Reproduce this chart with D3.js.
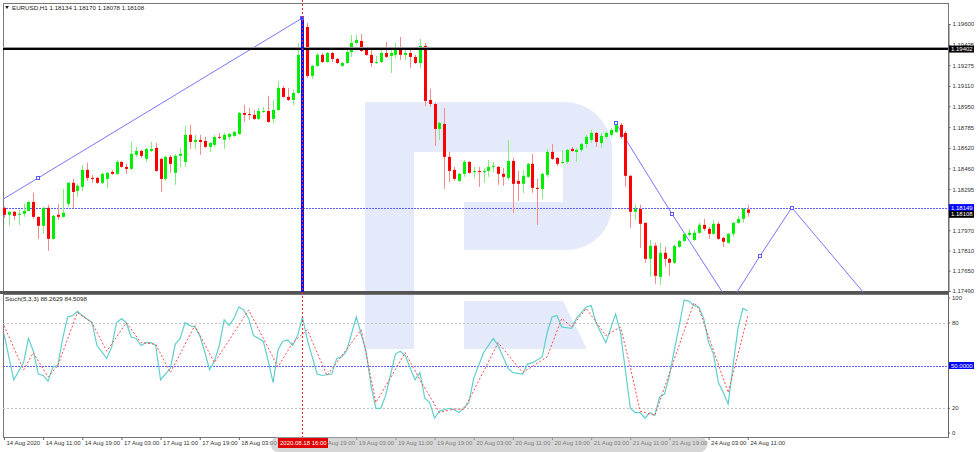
<!DOCTYPE html>
<html><head><meta charset="utf-8">
<script src="https://cdn.jsdelivr.net/npm/d3@7"></script>
<style>body{margin:0;background:#fff;}svg{display:block;font-family:"Liberation Sans",Arial,sans-serif;}</style>
</head><body><svg id="c" width="978" height="452"></svg>
<script>
// ---------- DATA ----------
const opens=[1.18147,1.18092,1.18116,1.18092,1.18100,1.18123,1.18194,1.18076,1.18005,1.18147,1.17902,1.18092,1.18076,1.18179,1.18345,1.18281,1.18313,1.18447,1.18384,1.18384,1.18345,1.18376,1.18431,1.18416,1.18510,1.18471,1.18455,1.18566,1.18597,1.18534,1.18597,1.18621,1.18534,1.18376,1.18550,1.18424,1.18558,1.18510,1.18724,1.18668,1.18684,1.18676,1.18629,1.18645,1.18708,1.18684,1.18708,1.18716,1.18731,1.18897,1.18889,1.18882,1.18850,1.18905,1.18913,1.18850,1.18921,1.19095,1.19024,1.19000,1.19055,1.19356,1.19577,1.19190,1.19269,1.19356,1.19300,1.19371,1.19324,1.19269,1.19292,1.19379,1.19450,1.19466,1.19395,1.19356,1.19292,1.19300,1.19371,1.19348,1.19356,1.19395,1.19356,1.19371,1.19340,1.19292,1.19427,1.19000,1.18968,1.18771,1.18810,1.18550,1.18447,1.18360,1.18416,1.18510,1.18431,1.18439,1.18431,1.18439,1.18471,1.18471,1.18416,1.18384,1.18518,1.18360,1.18337,1.18392,1.18495,1.18305,1.18297,1.18408,1.18589,1.18542,1.18503,1.18510,1.18613,1.18589,1.18605,1.18652,1.18684,1.18739,1.18660,1.18708,1.18724,1.18747,1.18803,1.18739,1.18400,1.18116,1.18139,1.18029,1.17744,1.17847,1.17602,1.17792,1.17744,1.17713,1.17839,1.17886,1.17934,1.17894,1.17950,1.18013,1.17981,1.17942,1.18021,1.17910,1.17871,1.17942,1.18029,1.18060,1.18134];
const highs=[1.18155,1.18123,1.18123,1.18131,1.18179,1.18202,1.18266,1.18076,1.18155,1.18171,1.18092,1.18179,1.18297,1.18352,1.18376,1.18337,1.18487,1.18503,1.18408,1.18392,1.18424,1.18431,1.18447,1.18526,1.18518,1.18495,1.18668,1.18629,1.18605,1.18621,1.18668,1.18660,1.18542,1.18558,1.18566,1.18574,1.18621,1.18795,1.18803,1.18724,1.18724,1.18708,1.18668,1.18724,1.18739,1.18739,1.18739,1.18755,1.18905,1.18961,1.18937,1.18921,1.18937,1.18945,1.19032,1.19000,1.19150,1.19111,1.19095,1.19079,1.19450,1.19648,1.19608,1.19277,1.19371,1.19371,1.19379,1.19379,1.19332,1.19300,1.19395,1.19513,1.19513,1.19521,1.19411,1.19395,1.19348,1.19411,1.19458,1.19419,1.19450,1.19498,1.19419,1.19411,1.19356,1.19482,1.19450,1.19087,1.18976,1.18826,1.18937,1.18589,1.18471,1.18424,1.18526,1.18518,1.18471,1.18471,1.18463,1.18526,1.18510,1.18479,1.18463,1.18684,1.18542,1.18439,1.18447,1.18503,1.18574,1.18376,1.18424,1.18613,1.18652,1.18550,1.18605,1.18613,1.18629,1.18621,1.18660,1.18724,1.18763,1.18747,1.18739,1.18747,1.18779,1.18826,1.18818,1.18755,1.18408,1.18171,1.18171,1.18029,1.17894,1.17871,1.17871,1.17839,1.17752,1.17855,1.17894,1.17950,1.17981,1.17973,1.18029,1.18060,1.17997,1.18052,1.18036,1.17918,1.17950,1.18036,1.18084,1.18147,1.18170];
const lows=[1.18068,1.18005,1.18052,1.18013,1.18076,1.18116,1.18060,1.17902,1.17942,1.17807,1.17894,1.18052,1.18068,1.18155,1.18147,1.18234,1.18281,1.18360,1.18345,1.18337,1.18337,1.18305,1.18408,1.18408,1.18463,1.18416,1.18447,1.18550,1.18542,1.18510,1.18589,1.18431,1.18273,1.18360,1.18424,1.18329,1.18471,1.18471,1.18613,1.18613,1.18566,1.18621,1.18589,1.18629,1.18692,1.18613,1.18684,1.18708,1.18724,1.18826,1.18842,1.18842,1.18842,1.18897,1.18818,1.18818,1.18913,1.19016,1.18992,1.18961,1.19047,1.19340,1.19174,1.19166,1.19261,1.19292,1.19292,1.19300,1.19284,1.19261,1.19284,1.19340,1.19435,1.19379,1.19348,1.19261,1.19284,1.19292,1.19332,1.19213,1.19332,1.19316,1.19316,1.19253,1.19284,1.19253,1.18953,1.18945,1.18637,1.18684,1.18297,1.18352,1.18360,1.18352,1.18392,1.18416,1.18384,1.18313,1.18345,1.18392,1.18431,1.18329,1.18321,1.18368,1.18108,1.18202,1.18266,1.18384,1.18266,1.18013,1.18218,1.18392,1.18526,1.18479,1.18495,1.18495,1.18589,1.18510,1.18589,1.18621,1.18660,1.18629,1.18621,1.18692,1.18708,1.18739,1.18692,1.18313,1.17989,1.18052,1.17831,1.17713,1.17602,1.17547,1.17539,1.17681,1.17610,1.17705,1.17831,1.17879,1.17918,1.17886,1.17942,1.17965,1.17902,1.17934,1.17894,1.17839,1.17863,1.17918,1.18021,1.18029,1.18078];
const closes=[1.18092,1.18116,1.18084,1.18100,1.18123,1.18194,1.18076,1.18005,1.18147,1.17902,1.18084,1.18076,1.18108,1.18345,1.18273,1.18321,1.18447,1.18384,1.18376,1.18345,1.18416,1.18424,1.18416,1.18510,1.18471,1.18455,1.18574,1.18597,1.18558,1.18613,1.18613,1.18439,1.18376,1.18550,1.18495,1.18558,1.18574,1.18724,1.18668,1.18684,1.18668,1.18629,1.18660,1.18708,1.18700,1.18724,1.18731,1.18747,1.18897,1.18882,1.18882,1.18850,1.18913,1.18913,1.18826,1.18921,1.19095,1.19024,1.19000,1.19055,1.19356,1.19577,1.19190,1.19269,1.19356,1.19300,1.19371,1.19324,1.19292,1.19292,1.19379,1.19450,1.19474,1.19387,1.19356,1.19292,1.19300,1.19371,1.19340,1.19371,1.19395,1.19356,1.19371,1.19340,1.19292,1.19427,1.18992,1.18968,1.18771,1.18818,1.18550,1.18439,1.18376,1.18416,1.18510,1.18424,1.18439,1.18431,1.18439,1.18471,1.18479,1.18416,1.18392,1.18518,1.18337,1.18337,1.18400,1.18495,1.18305,1.18297,1.18416,1.18589,1.18534,1.18495,1.18510,1.18605,1.18597,1.18605,1.18652,1.18708,1.18739,1.18668,1.18716,1.18739,1.18763,1.18803,1.18708,1.18400,1.18116,1.18139,1.18021,1.17744,1.17847,1.17610,1.17792,1.17744,1.17713,1.17847,1.17886,1.17942,1.17950,1.17950,1.18013,1.17981,1.17942,1.18021,1.17902,1.17879,1.17942,1.18029,1.18060,1.18139,1.18108];

// Stochastic(5,3,3) main line (%K) and signal (%D), read at bar indices
const kIdx=[0,2,4,5,6,7,8,9,10,11,12,13,14,15,16,18,19,21,22,23,24,25,26,27,28,29,30,31,32,34,35,36,37,38,39,40,41,42,43,44,45,46,47,48,49,50,51,53,54,55,56,57,58,59,60,61,62,64,65,67,68,69,70,72,74,75,76,77,78,80,81,82,84,85,86,87,88,89,91,92,93,95,96,98,100,101,103,104,106,107,108,110,111,112,113,114,116,117,119,120,121,123,125,126,128,129,130,131,132,133,134,135,136,137,138,139,140,141,142,143,144,145,146,147,148,149,150,151,152];
const kVal=[72,40,52,69,60,44,43,39,49,50,69,84,85,88,85,80,64,55,63,80,83,80,70,69,64,66,66,64,40,48,65,69,80,78,77,71,60,47,53,64,82,78,83,91,89,83,71,67,53,38,61,67,68,64,71,84,68,44,43,44,55,56,60,84,60,36,20,20,29,58,60,57,40,45,27,24,13,18,20,19,17,24,41,59,69,64,48,45,44,51,52,56,73,84,85,77,76,83,91,92,80,66,86,73,20,17,17,13,17,15,28,30,43,61,78,96,95,92,91,83,66,58,38,31,23,50,76,90,88.26];
const dIdx=[0,4,6,9,11,15,18,21,25,28,31,34,39,43,50,53,56,59,62,66,73,76,82,85,89,92,94,101,106,111,114,116,119,123,126,128,130,133,141,142,148,152];
const dVal=[78,47,59,42,50,87,80,60,80,66,65,45,78,52,89,69,49,66,75,43,75,24,59,40,17,19.5,19,66,45,56,83,77,90,71,77,49,18,15,94,90,31,84.51];

const priceTicks=[1.19600,1.19435,1.19275,1.19110,1.18950,1.18785,1.18620,1.18460,1.18295,1.17970,1.17810,1.17650,1.17490];
const stochTicks=[100,80,20,0];
const timeIdx=[0,8,16,24,32,40,48,56,64,72,80,88,96,104,112,120,128,136,144,152];
const timeLabels=["14 Aug 2020","14 Aug 11:00","14 Aug 19:00","17 Aug 03:00","17 Aug 11:00","17 Aug 19:00","18 Aug 03:00","","18 Aug 19:00","19 Aug 03:00","19 Aug 11:00","19 Aug 19:00","20 Aug 03:00","20 Aug 11:00","20 Aug 19:00","21 Aug 03:00","21 Aug 11:00","21 Aug 19:00","24 Aug 03:00","24 Aug 11:00"];

const resistance=1.19402, level=1.18149, lastPrice=1.18108;
// trend / projection lines: [barIndex, price]
const trendA=[[7,1.18384],[61,1.19648]];
const proj1=[[125,1.18818],[136.5,1.18100],[150,1.17290]];
const proj2=[[148,1.17370],[154.5,1.17767],[161,1.18149]];
const proj3=[[161,1.18149],[180,1.17280]];
const markerIdx=61;

// ---------- LAYOUT ----------
const svg=d3.select("#c");
const L=3,R=948,T=3,MB=292,ST=294,SB=437;
const x=d3.scaleLinear().domain([0,193]).range([4,4+193*4.893]);
const y=d3.scaleLinear().domain([1.17490,1.19600]).range([291,24]);
const ys=d3.scaleLinear().domain([0,100]).range([436.8,294.2]);
const crisp=v=>Math.round(v)+0.5;

const defs=svg.append("defs");
defs.append("clipPath").attr("id","mc").append("rect").attr("x",L).attr("y",T).attr("width",R-L).attr("height",MB-T);
defs.append("clipPath").attr("id","sc").append("rect").attr("x",L).attr("y",ST).attr("width",R-L).attr("height",SB-ST);

// watermark logo
svg.append("path").attr("fill","#e4eaf9")
 .attr("d","M365,102 H563 A48,48 0 0 1 612,150 V205 A45,45 0 0 1 567,250 H464 V202 H563 V152 H414 V349 H365 Z M464,301 H563 L587,349 H464 Z");

// frames
svg.append("rect").attr("x",L+0.5).attr("y",T+0.5).attr("width",R-L).attr("height",MB-T).attr("fill","none").attr("stroke","#777").attr("stroke-width",1);
svg.append("rect").attr("x",L+0.5).attr("y",ST+0.5).attr("width",R-L).attr("height",SB-ST).attr("fill","none").attr("stroke","#777").attr("stroke-width",1);
svg.append("line").attr("x1",0).attr("x2",R+1).attr("y1",MB+0.5).attr("y2",MB+0.5).attr("stroke","#555").attr("stroke-width",3);

const main=svg.append("g").attr("clip-path","url(#mc)");
// level line
main.append("line").attr("x1",L).attr("x2",R).attr("y1",crisp(y(level))).attr("y2",crisp(y(level))).attr("stroke","#5c5cff").attr("stroke-dasharray","2,1");
// trend line extended to the left edge
const tl=trendA, sl=(y(tl[1][1])-y(tl[0][1]))/(x(tl[1][0])-x(tl[0][0]));
main.append("line").attr("x1",L).attr("y1",y(tl[0][1])+(L-x(tl[0][0]))*sl).attr("x2",x(tl[1][0])).attr("y2",y(tl[1][1])).attr("stroke","#7777ff").attr("stroke-width",1);
const lg=d3.line().x(d=>x(d[0])).y(d=>y(d[1]));
[proj1,proj2,proj3].forEach(p=>main.append("path").attr("d",lg(p)).attr("fill","none").attr("stroke","#7777ff").attr("stroke-width",1));

// candles
const idx=d3.range(opens.length);
const cg=main.append("g");
idx.forEach(i=>{
  const up=closes[i]>=opens[i];
  const col=up?"#00ee00":"#ff0000";
  const xc=Math.round(x(i))+0.5;
  cg.append("line").attr("x1",xc).attr("x2",xc).attr("y1",y(highs[i])).attr("y2",y(lows[i])).attr("stroke",up?"#7fef7f":"#f48a8a").attr("stroke-width",1);
  const y1=y(Math.max(opens[i],closes[i])), y2=y(Math.min(opens[i],closes[i]));
  cg.append("rect").attr("x",xc-1.5).attr("y",y1).attr("width",3).attr("height",Math.max(1,y2-y1)).attr("fill",col);
});

// resistance line
main.append("line").attr("x1",L).attr("x2",R).attr("y1",crisp(y(resistance))-2).attr("y2",crisp(y(resistance))-2).attr("stroke","#999").attr("stroke-width",1);
main.append("line").attr("x1",L).attr("x2",R).attr("y1",Math.round(y(resistance))).attr("y2",Math.round(y(resistance))).attr("stroke","#000").attr("stroke-width",2);

// vertical marker line
const vx=Math.round(x(markerIdx))+0.5;
main.append("line").attr("x1",vx).attr("x2",vx).attr("y1",y(highs[markerIdx])).attr("y2",MB).attr("stroke","#1010ee").attr("stroke-width",3);
// markers
function sq(g,cx,cy,fill){g.append("rect").attr("x",Math.round(cx)-1.5).attr("y",Math.round(cy)-1.5).attr("width",3).attr("height",3).attr("fill",fill||"#fff").attr("stroke","#5a5aff").attr("stroke-width",1);}
sq(main,x(trendA[0][0]),y(trendA[0][1]));
sq(main,x(trendA[1][0]),y(trendA[1][1]),"#3030ff");
sq(main,x(proj1[0][0]),y(proj1[0][1]));
sq(main,x(proj1[1][0]),y(proj1[1][1]));
sq(main,x(proj2[1][0]),y(proj2[1][1]));
sq(main,x(proj2[2][0]),y(proj2[2][1]));

// stochastic panel
const sg=svg.append("g").attr("clip-path","url(#sc)");
[80,20].forEach(v=>sg.append("line").attr("x1",L).attr("x2",R).attr("y1",crisp(ys(v))).attr("y2",crisp(ys(v))).attr("stroke","#c4c4c4").attr("stroke-dasharray","2,2"));
sg.append("line").attr("x1",L).attr("x2",R).attr("y1",crisp(ys(50))).attr("y2",crisp(ys(50))).attr("stroke","#5c5cff").attr("stroke-dasharray","2,1");
const sl2=d3.line().x(d=>x(d[0])).y(d=>ys(d[1]));
sg.append("path").attr("d",sl2(kIdx.map((k,i)=>[k,kVal[i]]))).attr("fill","none").attr("stroke","#5fd0cd").attr("stroke-width",1.2);
sg.append("path").attr("d",sl2(dIdx.map((k,i)=>[k,dVal[i]]))).attr("fill","none").attr("stroke","#ff4a4a").attr("stroke-width",1).attr("stroke-dasharray","2,2");

// crosshair red dotted vertical
svg.append("line").attr("x1",vx).attr("x2",vx).attr("y1",0).attr("y2",442).attr("stroke","#ff2020").attr("stroke-width",1).attr("stroke-dasharray","2,2");

// price axis
const pa=svg.append("g").attr("transform",`translate(${R+0.5},0)`).call(d3.axisRight(y).tickValues(priceTicks).tickSize(2).tickFormat(d3.format(".5f")));
pa.select(".domain").attr("stroke","#666");
pa.selectAll("text").attr("font-size",6).attr("fill","#333").attr("x",4);
pa.selectAll("line").attr("stroke","#666");
svg.append("line").attr("x1",R+0.5).attr("x2",R+0.5).attr("y1",ST).attr("y2",SB).attr("stroke","#666");
// stochastic axis labels
const sa=svg.append("g");
stochTicks.forEach(v=>{
  const yy=Math.min(433,Math.max(298,ys(v)));
  sa.append("line").attr("x1",R).attr("x2",R+2).attr("y1",yy).attr("y2",yy).attr("stroke","#666");
  sa.append("text").attr("x",R+4).attr("y",yy).attr("dy","0.35em").attr("font-size",6).attr("fill","#333").text(v);
});

// label boxes
function box(yy,txt,bg){
  const g=svg.append("g");
  g.append("rect").attr("x",R+1).attr("y",yy-3.5).attr("width",25).attr("height",7).attr("fill",bg);
  g.append("text").attr("x",R+3).attr("y",yy).attr("dy","0.35em").attr("font-size",6).attr("fill","#fff").text(txt);
}
box(y(resistance),d3.format(".5f")(resistance),"#000");
box(y(level),d3.format(".5f")(level),"#0000ff");
box(y(lastPrice)+1.5,d3.format(".5f")(lastPrice),"#000");
box(ys(50),"50.0000","#0000ff");

// time axis
const ta=svg.append("g").attr("transform",`translate(0,${SB})`).call(d3.axisBottom(x).tickValues(timeIdx).tickSize(3).tickFormat((d,i)=>timeLabels[i]));
ta.select(".domain").remove();
ta.selectAll("line").attr("stroke","#666");
ta.selectAll("text").attr("font-size",6).attr("fill","#333").attr("text-anchor","start").attr("x",2).attr("y",4).attr("dy","0.71em");

// greyed date-scroll overlay
svg.append("rect").attr("x",271).attr("y",437).attr("width",436).attr("height",15).attr("rx",7).attr("fill","#b4b4b4").attr("opacity",0.55);
// red crosshair time box
svg.append("rect").attr("x",278).attr("y",438).attr("width",50).attr("height",10).attr("fill","#e00000");
svg.append("text").attr("x",280).attr("y",443).attr("dy","0.35em").attr("font-size",6).attr("fill","#fff").text("2020.08.18 16:00");

// titles
svg.append("path").attr("d","M5,6 L9,6 L7,9 Z").attr("fill","#222");
svg.append("text").attr("x",12).attr("y",8).attr("dy","0.35em").attr("font-size",6.2).attr("fill","#222").text("EURUSD,H1  1.18134 1.18170 1.18078 1.18108");
svg.append("text").attr("x",5).attr("y",299).attr("dy","0.35em").attr("font-size",6.2).attr("fill","#222").text("Stoch(5,3,3) 88.2629 84.5098");
</script></body></html>
